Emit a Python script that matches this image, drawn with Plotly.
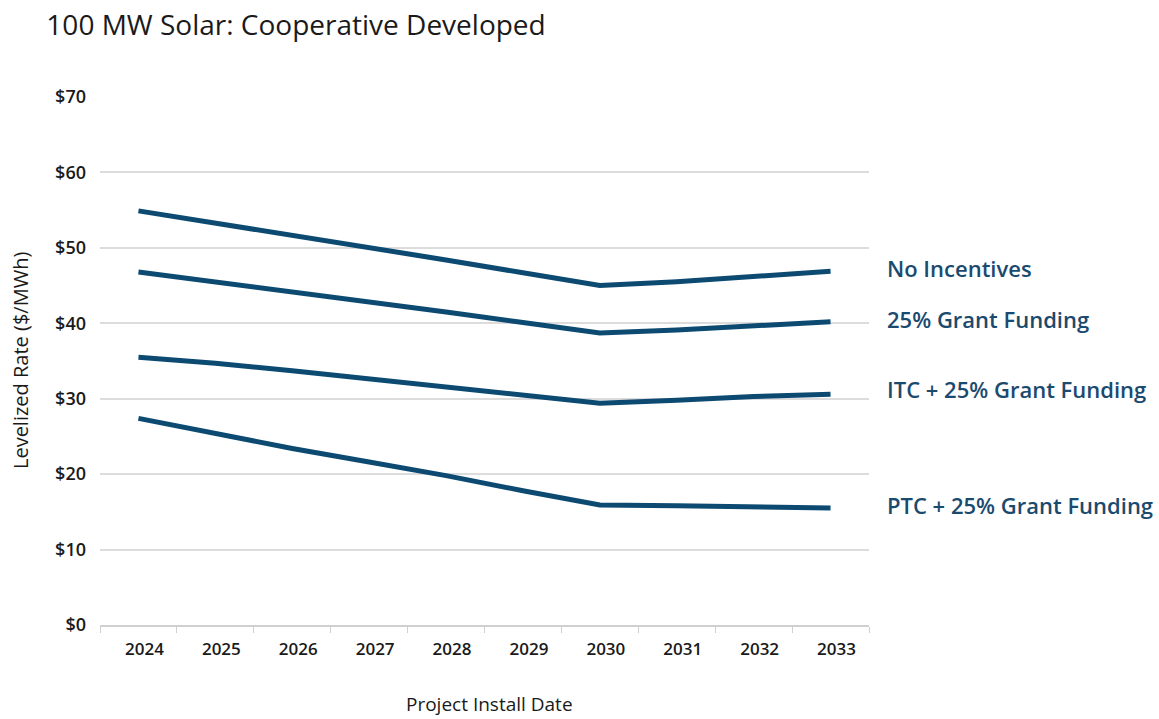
import plotly.graph_objects as go

years = ["2024", "2025", "2026", "2027", "2028", "2029", "2030", "2031", "2032", "2033"]
no_incentives = [54.9, 53.3, 51.7, 50.1, 48.4, 46.7, 45.0, 45.5, 46.2, 46.9]
grant_25 = [46.8, 45.5, 44.2, 42.8, 41.5, 40.1, 38.7, 39.1, 39.6, 40.2]
itc_grant = [35.5, 34.7, 33.7, 32.6, 31.5, 30.4, 29.4, 29.8, 30.3, 30.6]
ptc_grant = [27.4, 25.4, 23.4, 21.6, 19.8, 17.8, 15.9, 15.8, 15.7, 15.5]

series = [
    ("No Incentives", no_incentives),
    ("25% Grant Funding", grant_25),
    ("ITC + 25% Grant Funding", itc_grant),
    ("PTC + 25% Grant Funding", ptc_grant),
]
label_shift = [3, 3, 5, 3]

line_color = "#0c4a72"
label_color = "#1b4a6f"
font_family = "Open Sans, Lato, Roboto, sans-serif"

fig = go.Figure()
for name, vals in series:
    fig.add_trace(go.Scatter(
        x=years, y=vals, mode="lines", name=name,
        line=dict(color=line_color, width=5),
        showlegend=False, hoverinfo="x+y+name",
    ))

annotations = []
for (name, vals), ys in zip(series, label_shift):
    annotations.append(dict(
        text=name, xref="paper", x=1.021, xanchor="left",
        yref="y", y=vals[-1], yanchor="middle", yshift=ys,
        showarrow=False,
        font=dict(family=font_family, size=22, color=label_color, weight=600),
    ))

annotations.append(dict(
    text="Levelized Rate ($/MWh)", xref="paper", x=-0.104, xanchor="center",
    yref="paper", y=0.5, yanchor="middle", textangle=-90, showarrow=False,
    font=dict(family=font_family, size=20, color="#1a1a1a"),
))
annotations.append(dict(
    text="Project Install Date", xref="paper", x=0.507, xanchor="center",
    yref="paper", y=-0.15, yanchor="middle", showarrow=False,
    font=dict(family=font_family, size=19, color="#1a1a1a", weight=500),
))

fig.update_layout(
    width=1159, height=719,
    margin=dict(l=100, r=290, t=97, b=94),
    paper_bgcolor="white", plot_bgcolor="white",
    title=dict(
        text="100 MW Solar: Cooperative Developed",
        xref="container", x=0.040, xanchor="left",
        yref="container", y=0.965, yanchor="middle",
        font=dict(family=font_family, size=28, color="#1a1a1a"),
    ),
    annotations=annotations,
    xaxis=dict(
        type="category", range=[-0.5, 9.5],
        showgrid=False, zeroline=False,
        showline=True, linecolor="#d0d0d0", linewidth=2,
        ticks="outside", tickson="boundaries", ticklen=6, tickcolor="#d0d0d0", tickwidth=1,
        ticklabelshift=6, ticklabelstandoff=8,
        tickfont=dict(family=font_family, size=17, color="#1a1a1a", weight=600),
        fixedrange=True,
    ),
    yaxis=dict(
        range=[0, 70], dtick=10, tickprefix="$",
        showgrid=True, gridcolor="#dcdcdc", gridwidth=2,
        zeroline=False, showline=False, ticks="",
        ticklabelstandoff=13,
        tickfont=dict(family=font_family, size=18, color="#1a1a1a", weight=600),
        fixedrange=True,
    ),
)

fig.write_html("out.html")
